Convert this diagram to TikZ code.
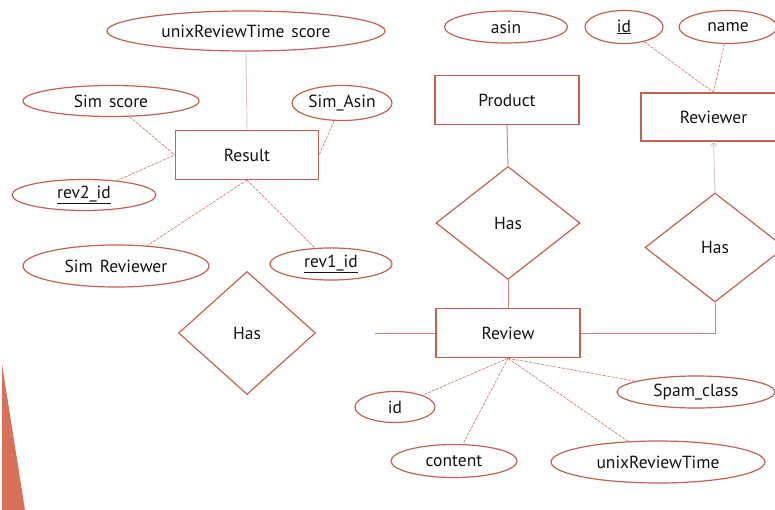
\documentclass[tikz,border=0pt]{standalone}
\usepackage{fontspec}
\setmainfont{PT Sans}
\usetikzlibrary{shapes.geometric,arrows.meta}
\definecolor{erred}{RGB}{196,98,82}
\definecolor{connred}{RGB}{210,130,115}
\definecolor{lightln}{RGB}{222,200,196}
\definecolor{tri}{RGB}{217,112,88}
\definecolor{txt}{RGB}{20,20,20}
\tikzset{
  lbl/.style={text=txt, font=\fontsize{17.5}{20}\selectfont},
  attr/.style={ellipse, draw=erred, line width=1.2pt, inner sep=0pt, lbl},
  ent/.style={rectangle, draw=erred, line width=1.2pt, inner sep=0pt, minimum width=143pt, minimum height=49pt, lbl},
  rel/.style={diamond, draw=erred, line width=1.2pt, inner sep=0pt, lbl},
  conn/.style={draw=connred, line width=0.7pt, dash pattern=on 3pt off 1.2pt},
  solidconn/.style={draw=connred, line width=0.9pt},
  lightconn/.style={draw=lightln, line width=0.9pt}
}
\begin{document}
\begin{tikzpicture}[x=1pt,y=-1pt]
\useasboundingbox (0,0) rectangle (775,510);
\fill[white] (0,0) rectangle (775,510);
% orange triangle
\fill[tri] (2,364) -- (25,510) -- (2,510) -- cycle;

% Result cluster
\node[attr, minimum width=278pt, minimum height=40pt] (uts) at (246,31) {unixReviewTime\hspace{0.4em}score};
\node[attr, minimum width=176pt, minimum height=31pt] (simscore) at (111,101) {Sim\hspace{0.4em}score};
\node[attr, minimum width=100pt, minimum height=35pt] (simasin) at (342,103) {Sim\_Asin};
\node[ent] (res) at (247,155) {Result};
\node[attr, minimum width=144pt, minimum height=31pt] (rev2) at (84,195) {\underline{rev2\_id}};
\node[attr, minimum width=186pt, minimum height=42pt] (simrev) at (116,266) {Sim\hspace{0.4em}Reviewer};
\node[attr, minimum width=122pt, minimum height=32pt] (rev1) at (331,264) {\underline{rev1\_id}};
\node[rel, minimum width=137pt, minimum height=123pt] (has0) at (247,333) {Has};

\draw[lightconn] (uts.south) -- (res.north);
\draw[conn] (simscore) -- (res.west);
\draw[conn] (rev2) -- (res.west);
\draw[conn] (simasin) -- (res.east);
\draw[conn] (res.south) -- (simrev);
\draw[conn] (res.south) -- (rev1);

% Product / Review
\node[attr, minimum width=123pt, minimum height=32pt] (asin) at (506,27) {asin};
\node[ent, minimum width=144pt] (prod) at (507,100) {Product};
\node[rel, minimum width=144pt, minimum height=113pt] (has1) at (508,223) {Has};
\node[ent, minimum width=144pt, line width=1.7pt] (review) at (508,333) {Review};
\coordinate (freeend) at (375,333);
\draw[solidconn] (prod.south) -- (has1.north);
\draw[solidconn] (has1.south) -- (review.north);
\draw[solidconn] (review.west) -- (freeend);

\node[attr, minimum width=80pt, minimum height=31pt] (rid) at (395,407) {id};
\node[attr, minimum width=126pt, minimum height=33pt] (content) at (454,461) {content};
\node[attr, minimum width=214pt, minimum height=42pt] (urt) at (658,462) {unixReviewTime};
\node[attr, minimum width=158pt, minimum height=32pt] (spam) at (696,392) {Spam\_class};
\draw[conn] (review.south) -- (rid);
\draw[conn] (review.south) -- (content);
\draw[conn] (review.south) -- (urt);
\draw[conn] (review.south) -- (spam);

% Reviewer
\node[attr, minimum width=78pt, minimum height=33pt] (uid) at (624,27) {\underline{id}};
\node[attr, minimum width=98pt, minimum height=33pt] (uname) at (728,27) {name};
\node[ent, minimum width=145pt, minimum height=48pt] (reviewer) at (713.5,117) {Reviewer};
\node[rel, minimum width=140pt, minimum height=109pt] (has2) at (715,247.5) {Has};
\coordinate (corner) at (715,333);
\draw[conn] (uid) -- (reviewer.north);
\draw[conn] (uname) -- (reviewer.north);
\draw[solidconn] (review.east) -- (corner) -- (has2.south);
\draw[lightconn, -{Straight Barb[length=4pt,width=6pt]}] (has2.north) -- (reviewer.south);
\end{tikzpicture}
\end{document}
